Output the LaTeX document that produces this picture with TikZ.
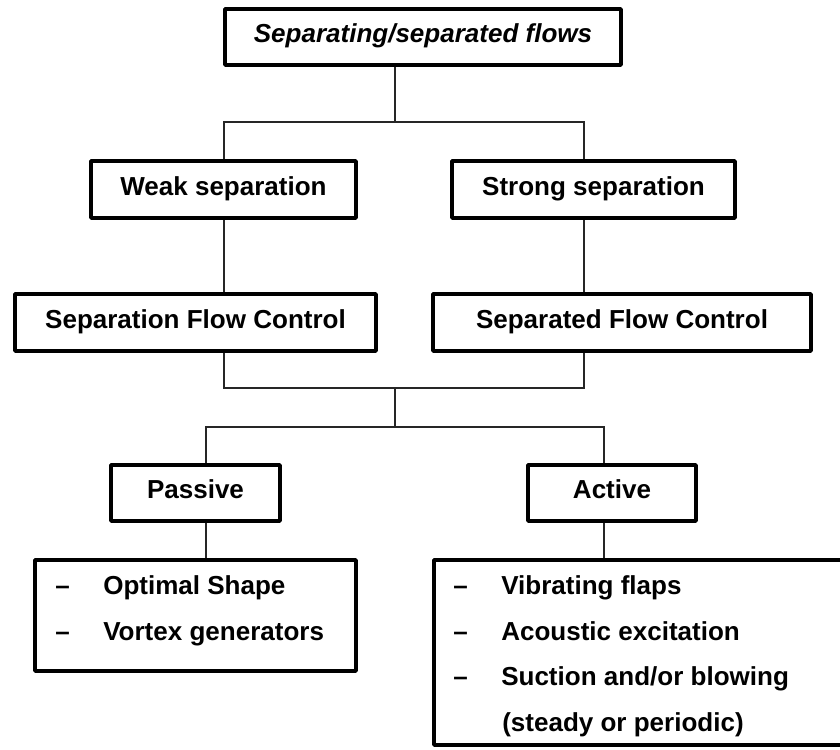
\documentclass[tikz,border=0pt]{standalone}
\usepackage{fontspec}
\setmainfont{Liberation Sans}
\usetikzlibrary{positioning}
\newcommand*{\listitem}[1]{\makebox[1.2cm][l]{--}#1}

\begin{document}
\begin{tikzpicture}[x = 0.025cm, y = -0.025cm,
    box/.style = {draw, line width = 3.2pt, line join = round, inner sep = 0pt,
                  font = \fontsize{18.5}{22}\selectfont\bfseries,
                  text height = 12pt, text depth = 4pt},
    conn/.style = {black!85, line width = 0.8pt},
    item/.style = {inner sep = 0pt, anchor = base west,
                   font = \fontsize{18.5}{22}\selectfont\bfseries}]
    \useasboundingbox[clip] (0,0) rectangle (840,749);

    % level 0
    \node (flows) at (423,37) [box, minimum width = 9.8875cm, minimum height = 1.3875cm] {\itshape Separating/separated flows};

    % level 1
    \node (weak) at (223.5,189.5) [box, minimum width = 6.6125cm, minimum height = 1.4125cm] {Weak separation};
    \node (strong) at (593.5,189.5) [box, minimum width = 7.0625cm, minimum height = 1.4125cm] {Strong separation};

    % level 2
    \node (sepctrl) at (195.5,322.5) [box, minimum width = 9.0125cm, minimum height = 1.4125cm] {Separation Flow Control};
    \node (sepdctrl) at (622,322.5) [box, minimum width = 9.4375cm, minimum height = 1.4125cm] {Separated Flow Control};

    % level 3
    \node (passive) at (195.5,493) [box, minimum width = 4.2125cm, minimum height = 1.3875cm] {Passive};
    \node (active) at (612,493) [box, minimum width = 4.1875cm, minimum height = 1.3875cm] {Active};

    % lists
    \node (plist) at (195.5,615.5) [box, minimum width = 8.0125cm, minimum height = 2.7625cm] {};
    \node (alist) at (646,652.5) [box, minimum width = 10.5875cm, minimum height = 4.6125cm] {};

    \foreach \txt [count = \i] in {Optimal Shape, Vortex generators}
        \node (pitem\i) at (55,{594.5+45.5*(\i-1)}) [item] {\listitem{\txt}};
    \foreach \txt [count = \i] in {Vibrating flaps, Acoustic excitation, Suction and/or blowing}
        \node (aitem\i) at (453,{594.5+45.5*(\i-1)}) [item] {\listitem{\txt}};
    \node (aitem4) at (502,731) [item] {(steady or periodic)};

    % branch points
    \coordinate (b1) at (395,122);
    \coordinate (b2) at (395,388);
    \coordinate (b3) at (395,427);
    \coordinate (lx) at (224,0);
    \coordinate (rx) at (584,0);
    \coordinate (px) at (206,0);
    \coordinate (ax) at (604,0);

    \draw[conn] (flows.south -| b1) -- (b1);
    \draw[conn] (weak.north -| lx) |- (b1) -| (strong.north -| rx);
    \draw[conn] (weak.south -| lx) -- (sepctrl.north -| lx);
    \draw[conn] (strong.south -| rx) -- (sepdctrl.north -| rx);
    \draw[conn] (sepctrl.south -| lx) |- (b2) -| (sepdctrl.south -| rx);
    \draw[conn] (b2) -- (b3);
    \draw[conn] (passive.north -| px) |- (b3) -| (active.north -| ax);
    \draw[conn] (passive.south -| px) -- (plist.north -| px);
    \draw[conn] (active.south -| ax) -- (alist.north -| ax);

\end{tikzpicture}
\end{document}
